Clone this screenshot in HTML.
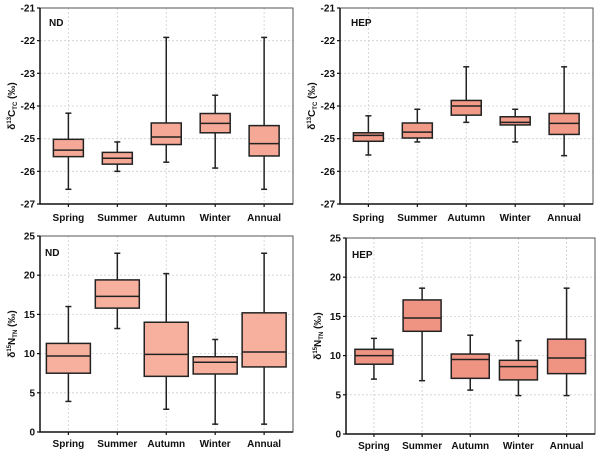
<!DOCTYPE html>
<html><head><meta charset="utf-8"><style>
body{margin:0;background:#fff;}
svg{display:block;font-family:"Liberation Sans",Arial,sans-serif;}
</style></head><body>
<svg id="c" width="600" height="462"></svg>
<script>
const categories=["Spring","Summer","Autumn","Winter","Annual"];
const ndC=[[-26.55,-25.55,-25.35,-25.02,-24.22],[-26.0,-25.78,-25.6,-25.42,-25.1],[-25.72,-25.18,-24.95,-24.52,-21.9],[-25.9,-24.82,-24.53,-24.23,-23.67],[-26.55,-25.53,-25.15,-24.6,-21.9]];
const hepC=[[-25.5,-25.08,-24.9,-24.82,-24.3],[-25.1,-24.98,-24.8,-24.52,-24.1],[-24.5,-24.28,-24.0,-23.83,-22.8],[-25.1,-24.58,-24.5,-24.33,-24.1],[-25.52,-24.87,-24.53,-24.23,-22.8]];
const ndN=[[3.9,7.5,9.7,11.3,16.0],[13.2,15.8,17.3,19.4,22.8],[2.9,7.1,9.9,14.0,20.2],[1.0,7.4,8.9,9.6,11.8],[1.0,8.3,10.2,15.2,22.8]];
const hepN=[[7.0,8.9,10.0,10.8,12.2],[6.8,13.1,14.8,17.1,18.6],[5.6,7.1,9.5,10.2,12.6],[4.9,6.9,8.6,9.4,11.9],[4.9,7.7,9.7,12.1,18.6]];
const cTicks=[-27,-26,-25,-24,-23,-22,-21];
const nTicks=[0,5,10,15,20,25];
const NS="http://www.w3.org/2000/svg";
const svg=document.getElementById('c');
function mk(tag,attrs,parent){const e=document.createElementNS(NS,tag);for(const k in attrs)e.setAttribute(k,attrs[k]);(parent||svg).appendChild(e);return e;}
const panels=[
 {id:'nd-c',data:ndC,ticks:cTicks,x0:40,x1:293,y0:8,y1:204,label:'ND',iso:'13',el:'C',sub:'TC',fill:'#f5a896',bw:30,lx:49,ly:26,cy:221},
 {id:'hep-c',data:hepC,ticks:cTicks,x0:340,x1:593,y0:8,y1:204,label:'HEP',iso:'13',el:'C',sub:'TC',fill:'#f29a88',bw:30,lx:351,ly:26,cy:221},
 {id:'nd-n',data:ndN,ticks:nTicks,x0:40,x1:293,y0:236,y1:432,label:'ND',iso:'15',el:'N',sub:'TN',fill:'#f8b09e',bw:44,lx:45,ly:256,cy:447},
 {id:'hep-n',data:hepN,ticks:nTicks,x0:346,x1:595,y0:238,y1:434,label:'HEP',iso:'15',el:'N',sub:'TN',fill:'#ef9483',bw:38,lx:352,ly:258,cy:449}
];
panels.forEach(p=>{
 const g=mk('g',{});
 
 
 const tmin=p.ticks[0],tmax=p.ticks[p.ticks.length-1];
 const y=v=>p.y1-(v-tmin)/(tmax-tmin)*(p.y1-p.y0);
 const step=(p.x1-p.x0)/5.17;
 const x=i=>p.x0+step*(0.58+i);
 // gridlines
 p.ticks.forEach(t=>{const l=mk('line',{x1:p.x0,x2:p.x1,y1:y(t),y2:y(t),stroke:'#cfcfcf','stroke-dasharray':'2,2','stroke-width':0.8},g);
  });
 categories.forEach((c,i)=>{const l=mk('line',{x1:x(i),x2:x(i),y1:p.y0,y2:p.y1,stroke:'#cfcfcf','stroke-dasharray':'2,2','stroke-width':0.8},g);
  });
 // frame
 const fr=mk('rect',{x:p.x0,y:p.y0,width:p.x1-p.x0,height:p.y1-p.y0,fill:'none',stroke:'#555','stroke-width':1},g);
 
 const ax=mk('path',{d:`M${p.x0},${p.y0}V${p.y1}H${p.x1}`,fill:'none',stroke:'#111','stroke-width':1.5},g);
 
 // ticks
 p.ticks.forEach(t=>{
  mk('line',{x1:p.x0-3,x2:p.x0,y1:y(t),y2:y(t),stroke:'#111','stroke-width':1.2},g);
  const tx=mk('text',{x:p.x0-5,y:y(t)+3.5,'text-anchor':'end','font-size':10,'font-weight':'bold',fill:'#111'},g);
  tx.textContent=t;
  
 });
 categories.forEach((c,i)=>{
  mk('line',{x1:x(i),x2:x(i),y1:p.y1,y2:p.y1+3,stroke:'#111','stroke-width':1.2},g);
  const tx=mk('text',{x:x(i),y:p.cy,'text-anchor':'middle','font-size':10,'font-weight':'bold',fill:'#111'},g);
  tx.textContent=c;
  
 });
 // boxes
 p.data.forEach((d,i)=>{
  const bg=mk('g',{},g);
  
  
  const cx=x(i),hw=p.bw/2;
  mk('line',{x1:cx,x2:cx,y1:y(d[0]),y2:y(d[4]),stroke:'#222','stroke-width':1.5},bg);
  mk('line',{x1:cx-3,x2:cx+3,y1:y(d[0]),y2:y(d[0]),stroke:'#222','stroke-width':1.5},bg);
  mk('line',{x1:cx-3,x2:cx+3,y1:y(d[4]),y2:y(d[4]),stroke:'#222','stroke-width':1.5},bg);
  mk('rect',{x:cx-hw,y:y(d[3]),width:p.bw,height:y(d[1])-y(d[3]),fill:p.fill,stroke:'#222','stroke-width':1.5},bg);
  mk('line',{x1:cx-hw,x2:cx+hw,y1:y(d[2]),y2:y(d[2]),stroke:'#222','stroke-width':1.5},bg);
 });
 const lb=mk('text',{x:p.lx,y:p.ly,'font-size':10,'font-weight':'bold',fill:'#111'},g);
 lb.textContent=p.label;
 
 const cyy=(p.y0+p.y1)/2, tx0=p.x0-25;
 const yt=mk('text',{transform:`translate(${tx0},${cyy}) rotate(-90)`,'text-anchor':'middle','font-size':10,'font-weight':'bold',fill:'#111'},g);
 yt.innerHTML=`δ<tspan dy="-4" font-size="6">${p.iso}</tspan><tspan dy="4">${p.el}</tspan><tspan dy="2" font-size="6">${p.sub}</tspan><tspan dy="-2"> (‰)</tspan>`;
 
});
</script>
</body></html>
